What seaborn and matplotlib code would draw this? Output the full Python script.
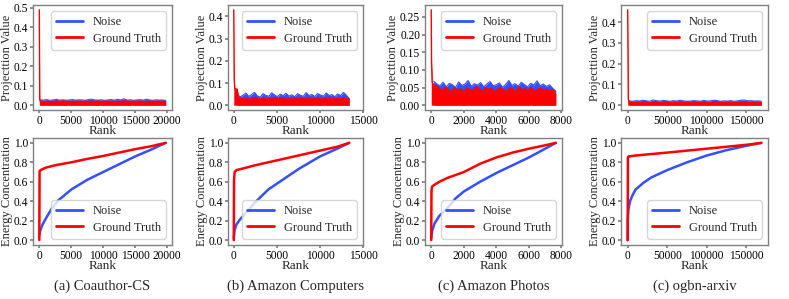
import numpy as np
import pandas as pd
import matplotlib
matplotlib.use("Agg")
import matplotlib.pyplot as plt
import seaborn as sns
from matplotlib.lines import Line2D
from matplotlib.ticker import MultipleLocator

# ---------------- data ----------------
captions = ["(a) Coauthor-CS", "(b) Amazon Computers", "(c) Amazon Photos", "(c) ogbn-arxiv"]
n_rank = [19800, 13400, 7650, 169000]

# top row: projection values (head = first ranks, band = remaining ranks)
cs_gt_head_rank = [0, 60, 150]
cs_gt_head = [0.49, 0.03, 0.021]
cs_gt_band = [0.021, 0.019, 0.020, 0.018, 0.021, 0.019, 0.020, 0.022, 0.019, 0.020,
              0.018, 0.021, 0.020, 0.019, 0.021, 0.020, 0.018, 0.020, 0.022, 0.019,
              0.020, 0.021, 0.019, 0.020, 0.018, 0.021, 0.020, 0.022, 0.019, 0.020,
              0.021, 0.019, 0.020, 0.018, 0.021, 0.020, 0.019, 0.021, 0.020, 0.019]
cs_noise_band = [0.028, 0.026, 0.029, 0.025, 0.027, 0.030, 0.026, 0.028, 0.025, 0.027,
                 0.029, 0.026, 0.028, 0.027, 0.025, 0.029, 0.031, 0.027, 0.026, 0.028,
                 0.025, 0.027, 0.029, 0.026, 0.030, 0.027, 0.033, 0.026, 0.028, 0.025,
                 0.027, 0.029, 0.026, 0.031, 0.027, 0.025, 0.028, 0.026, 0.027, 0.025]

comp_gt_head_rank = [0, 50, 120, 400]
comp_gt_head = [0.43, 0.12, 0.075, 0.072]
comp_gt_band = [0.035, 0.030, 0.028, 0.033, 0.025, 0.031, 0.036, 0.027, 0.030, 0.034,
                0.026, 0.032, 0.029, 0.035, 0.027, 0.031, 0.033, 0.026, 0.030, 0.028,
                0.034, 0.029, 0.032, 0.027, 0.031, 0.035, 0.028, 0.030, 0.033, 0.026,
                0.031, 0.029, 0.034, 0.027, 0.032, 0.030, 0.028, 0.033, 0.029, 0.027]
comp_noise_band = [0.050, 0.038, 0.045, 0.055, 0.040, 0.048, 0.058, 0.042, 0.037, 0.052,
                   0.044, 0.040, 0.056, 0.046, 0.039, 0.050, 0.043, 0.054, 0.041, 0.047,
                   0.038, 0.052, 0.045, 0.040, 0.057, 0.043, 0.049, 0.039, 0.053, 0.046,
                   0.041, 0.055, 0.044, 0.048, 0.038, 0.051, 0.043, 0.058, 0.045, 0.030]

photo_gt_head_rank = [0, 20, 60, 150]
photo_gt_head = [0.27, 0.12, 0.065, 0.058]
photo_gt_band = [0.055, 0.048, 0.040, 0.052, 0.045, 0.038, 0.050, 0.043, 0.047, 0.036,
                 0.049, 0.044, 0.041, 0.053, 0.046, 0.039, 0.050, 0.044, 0.048, 0.037,
                 0.045, 0.051, 0.042, 0.040, 0.049, 0.046, 0.038, 0.052, 0.043, 0.047,
                 0.041, 0.050, 0.039, 0.045, 0.048, 0.042, 0.046, 0.040, 0.044, 0.030]
photo_noise_band = [0.068, 0.060, 0.055, 0.065, 0.052, 0.062, 0.058, 0.050, 0.066, 0.056,
                    0.060, 0.070, 0.054, 0.061, 0.057, 0.064, 0.052, 0.060, 0.067, 0.055,
                    0.058, 0.063, 0.051, 0.059, 0.070, 0.056, 0.061, 0.054, 0.065, 0.058,
                    0.052, 0.062, 0.057, 0.069, 0.055, 0.060, 0.053, 0.058, 0.048, 0.040]

arx_gt_head_rank = [0, 800, 2000]
arx_gt_head = [0.46, 0.03, 0.015]
arx_gt_band = [0.015, 0.014, 0.013, 0.015, 0.014, 0.016, 0.013, 0.014, 0.015, 0.013,
               0.014, 0.016, 0.014, 0.013, 0.015, 0.014, 0.013, 0.015, 0.014, 0.016,
               0.013, 0.014, 0.015, 0.014, 0.013, 0.015, 0.016, 0.014, 0.013, 0.015,
               0.014, 0.013, 0.015, 0.014, 0.016, 0.014, 0.013, 0.015, 0.014, 0.013]
arx_noise_band = [0.021, 0.019, 0.022, 0.020, 0.024, 0.021, 0.019, 0.025, 0.022, 0.020,
                  0.023, 0.021, 0.019, 0.022, 0.020, 0.024, 0.021, 0.019, 0.020, 0.022,
                  0.021, 0.019, 0.023, 0.020, 0.021, 0.024, 0.022, 0.019, 0.021, 0.020,
                  0.022, 0.019, 0.021, 0.024, 0.025, 0.021, 0.022, 0.020, 0.021, 0.019]

# bottom row: cumulative energy concentration
cs_gt_cum_rank = [0, 40, 200, 1000, 2500, 5000, 7500, 10000, 12500, 15000, 17500, 19800]
cs_gt_cum = [0.0, 0.71, 0.72, 0.745, 0.77, 0.80, 0.835, 0.865, 0.90, 0.935, 0.965, 1.0]
cs_noise_cum_rank = [0, 100, 500, 1000, 2000, 3000, 5000, 7500, 10000, 12500, 15000, 17500, 19800]
cs_noise_cum = [0.05, 0.09, 0.16, 0.22, 0.33, 0.41, 0.52, 0.62, 0.70, 0.78, 0.86, 0.93, 1.0]

comp_gt_cum_rank = [0, 30, 100, 300, 1000, 2500, 5000, 7500, 10000, 12000, 13400]
comp_gt_cum = [0.0, 0.62, 0.70, 0.72, 0.735, 0.77, 0.82, 0.87, 0.92, 0.96, 1.0]
comp_noise_cum_rank = [0, 100, 300, 700, 1500, 2500, 4000, 5000, 7500, 10000, 12000, 13400]
comp_noise_cum = [0.02, 0.10, 0.16, 0.21, 0.29, 0.39, 0.52, 0.58, 0.73, 0.86, 0.94, 1.0]

photo_gt_cum_rank = [0, 15, 50, 200, 500, 1000, 1500, 2000, 3000, 4000, 5000, 6000, 7000, 7650]
photo_gt_cum = [0.0, 0.50, 0.55, 0.57, 0.60, 0.64, 0.67, 0.70, 0.785, 0.85, 0.90, 0.94, 0.975, 1.0]
photo_noise_cum_rank = [0, 50, 200, 500, 1000, 1500, 2000, 3000, 4000, 5000, 6000, 7000, 7650]
photo_noise_cum = [0.02, 0.09, 0.17, 0.25, 0.33, 0.43, 0.50, 0.60, 0.69, 0.77, 0.85, 0.94, 1.0]

arx_gt_cum_rank = [0, 300, 1000, 10000, 50000, 100000, 150000, 169000]
arx_gt_cum = [0.0, 0.85, 0.86, 0.87, 0.90, 0.94, 0.98, 1.0]
arx_noise_cum_rank = [0, 200, 1000, 3000, 6000, 10000, 20000, 30000, 50000, 75000,
                      100000, 125000, 150000, 169000]
arx_noise_cum = [0.0, 0.22, 0.32, 0.40, 0.46, 0.52, 0.59, 0.645, 0.72, 0.80,
                 0.87, 0.925, 0.97, 1.0]

top_data = [
    (cs_gt_head_rank, cs_gt_head, cs_gt_band, cs_noise_band),
    (comp_gt_head_rank, comp_gt_head, comp_gt_band, comp_noise_band),
    (photo_gt_head_rank, photo_gt_head, photo_gt_band, photo_noise_band),
    (arx_gt_head_rank, arx_gt_head, arx_gt_band, arx_noise_band),
]
bottom_data = [
    (cs_gt_cum_rank, cs_gt_cum, cs_noise_cum_rank, cs_noise_cum),
    (comp_gt_cum_rank, comp_gt_cum, comp_noise_cum_rank, comp_noise_cum),
    (photo_gt_cum_rank, photo_gt_cum, photo_noise_cum_rank, photo_noise_cum),
    (arx_gt_cum_rank, arx_gt_cum, arx_noise_cum_rank, arx_noise_cum),
]

# ---------------- style ----------------
sns.set_theme(style="ticks")
plt.rcParams["font.family"] = ["Liberation Serif", "DejaVu Serif"]
plt.rcParams["axes.edgecolor"] = "#808080"
plt.rcParams["axes.linewidth"] = 1.0
plt.rcParams["xtick.color"] = "#808080"
plt.rcParams["ytick.color"] = "#808080"
plt.rcParams["xtick.labelcolor"] = "black"
plt.rcParams["ytick.labelcolor"] = "black"
plt.rcParams["xtick.major.size"] = 2.5
plt.rcParams["ytick.major.size"] = 2.5

BLUE = "#3350ff"
RED = "#ff0000"
TICK_FS = 8.3
LABEL_FS = 9
LEG_FS = 9
CAP_FS = 10.5

fig = plt.figure(figsize=(7.89, 2.99), dpi=100)
W, H = 789.0, 299.0
cols = [(33, 172), (228, 363), (425, 562), (621, 768)]
top_row = (5, 110)
bot_row = (138, 245)
xlim_right = [None, 15000, None, None]
x_step = [5000, 5000, 2000, 50000]
top_y_step = [0.1, 0.1, 0.05, 0.1]


def make_ax(c, row):
    x0, x1 = cols[c]
    y0, y1 = row
    return fig.add_axes([x0 / W, 1 - y1 / H, (x1 - x0) / W, (y1 - y0) / H])


def style_ax(ax, ylabel, c):
    n = n_rank[c]
    ax.set_xlabel("Rank", fontsize=LABEL_FS + 0.5, labelpad=-1.0)
    ax.set_ylabel(ylabel, fontsize=LABEL_FS, labelpad=0.5)
    ax.tick_params(labelsize=TICK_FS, pad=1.0)
    left = -0.05 * n
    right = xlim_right[c] if xlim_right[c] is not None else 1.05 * n
    ax.set_xlim(left, right)
    ax.xaxis.set_major_locator(MultipleLocator(x_step[c]))


handles = [Line2D([], [], color=BLUE, lw=2), Line2D([], [], color=RED, lw=2)]
names = ["Noise", "Ground Truth"]
leg_kw = dict(fontsize=LEG_FS, frameon=True, handlelength=2.1, handletextpad=0.8,
              borderaxespad=0.5, labelspacing=0.35)

for c in range(4):
    n = n_rank[c]
    # ---- top ----
    ax = make_ax(c, top_row)
    hr, hv, gb, nb = top_data[c]
    gt_x = np.concatenate([hr, np.linspace(hr[-1] + 150, n, len(gb))])
    gt_y = np.concatenate([hv, gb])
    nz_x = np.linspace(hr[-1], n, len(nb))
    nz_y = np.array(nb)
    sns.lineplot(x=nz_x, y=nz_y, ax=ax, color=BLUE, lw=0.8, estimator=None)
    ax.fill_between(nz_x, 0, nz_y, color=BLUE, lw=0)
    sns.lineplot(x=gt_x, y=gt_y, ax=ax, color=RED, lw=1.0, estimator=None)
    ax.fill_between(gt_x, 0, gt_y, color=RED, lw=0)
    top = max(hv)
    ax.set_ylim(-0.05 * top, 1.05 * top)
    ax.yaxis.set_major_locator(MultipleLocator(top_y_step[c]))
    style_ax(ax, "Projecttion Value", c)
    ax.legend(handles, names, loc="upper right", **leg_kw)

    # ---- bottom ----
    ax = make_ax(c, bot_row)
    gr, gv, nr, nv = bottom_data[c]
    df_n = pd.DataFrame({"Rank": nr, "Energy": nv})
    df_g = pd.DataFrame({"Rank": gr, "Energy": gv})
    sns.lineplot(data=df_n, x="Rank", y="Energy", ax=ax, color=BLUE, lw=1.8, estimator=None)
    sns.lineplot(data=df_g, x="Rank", y="Energy", ax=ax, color=RED, lw=1.8, estimator=None)
    ax.set_ylim(-0.05, 1.05)
    ax.yaxis.set_major_locator(MultipleLocator(0.2))
    style_ax(ax, "Energy Concentration", c)
    ax.legend(handles, names, loc="lower right", **leg_kw)

    fig.text((cols[c][0] + cols[c][1]) / 2 / W, 1 - 286 / H, captions[c],
             ha="center", va="center", fontsize=CAP_FS)

fig.savefig("out.png", dpi=100)
